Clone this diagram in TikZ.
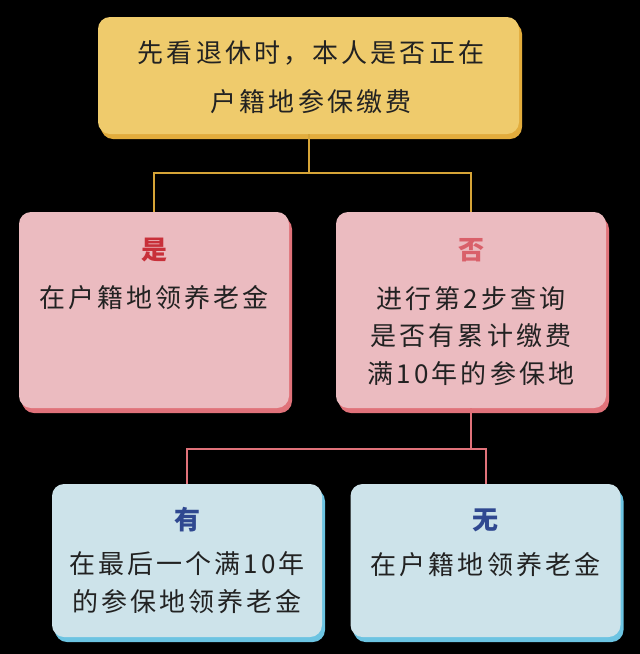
\documentclass[tikz,border=0pt]{standalone}
\usepackage{fontspec}
\newfontfamily\cjk{Noto Sans CJK SC}[LetterSpace=12]
\usetikzlibrary{shadows}
\definecolor{startfill}{HTML}{EFCB6C}
\definecolor{startedge}{HTML}{E2AC3C}
\definecolor{pinkfill}{HTML}{EBBBC0}
\definecolor{pinkedge}{HTML}{E0727A}
\definecolor{bluefill}{HTML}{CDE3EA}
\definecolor{blueedge}{HTML}{6CC4E2}
\definecolor{yesred}{HTML}{C8303A}
\definecolor{nored}{HTML}{D9606A}
\definecolor{hasblue}{HTML}{2F4890}
\definecolor{bodygray}{HTML}{222222}
\definecolor{goldline}{HTML}{D6A437}

\begin{document}
\begin{tikzpicture}[x=1pt,y=-1pt,
  box/.style={rounded corners=12pt,inner sep=0pt,minimum width=270pt},
  startbox/.style={box,fill=startfill,minimum width=421pt,minimum height=117pt,
    drop shadow={opacity=1,fill=startedge,shadow xshift=3pt,shadow yshift=-5pt}},
  pinkbox/.style={box,fill=pinkfill,minimum height=196pt,
    drop shadow={opacity=1,fill=pinkedge,shadow xshift=3pt,shadow yshift=-5pt}},
  bluebox/.style={box,fill=bluefill,minimum height=153pt,
    drop shadow={opacity=1,fill=blueedge,shadow xshift=3pt,shadow yshift=-5pt}},
  bodytext/.style={align=center,inner sep=0pt,text=bodygray,
    font=\cjk\fontsize{26}{37.5}\selectfont},
  title/.style={inner sep=0pt,font=\cjk\bfseries\fontsize{26}{30}\selectfont},
  link/.style={line width=2pt}]
  \fill[black] (0,0) rectangle (640,654);
  \useasboundingbox (0,0) rectangle (640,654);

  % boxes
  \node[startbox] (start) at (308.5,75.5) {};
  \node[pinkbox] (yes) at (154,310) {};
  \node[pinkbox] (no) at (471,310) {};
  \node[bluebox] (has) at (187,560.5) {};
  \node[bluebox] (none) at (485.5,560.5) {};

  % texts
  \node[bodytext,font=\cjk\fontsize{26}{49}\selectfont] (starttext) at (311,77.5)
    {先看退休时，本人是否正在\\户籍地参保缴费};
  \node[title,text=yesred] (yestitle) at (154,250) {是};
  \node[bodytext] (yestext) at (154,298) {在户籍地领养老金};
  \node[title,text=nored] (notitle) at (471,250) {否};
  \node[bodytext] (notext) at (471,336) {进行第2步查询\\是否有累计缴费\\满10年的参保地};
  \node[title,text=hasblue] (hastitle) at (187,520) {有};
  \node[bodytext] (hastext) at (187,582.5) {在最后一个满10年\\的参保地领养老金};
  \node[title,text=hasblue] (nonetitle) at (485.5,520) {无};
  \node[bodytext] (nonetext) at (485.5,565) {在户籍地领养老金};

  % connectors
  \draw[link,goldline] (start.south) -- ++(0,39) -| (yes.north);
  \draw[link,goldline] (start.south) -- ++(0,39) -| (no.north);
  \draw[link,pinkedge] (no.south) -- ++(0,41) -| (has.north);
  \draw[link,pinkedge] (no.south) -- ++(0,41) -| (none.north);
\end{tikzpicture}
\end{document}
